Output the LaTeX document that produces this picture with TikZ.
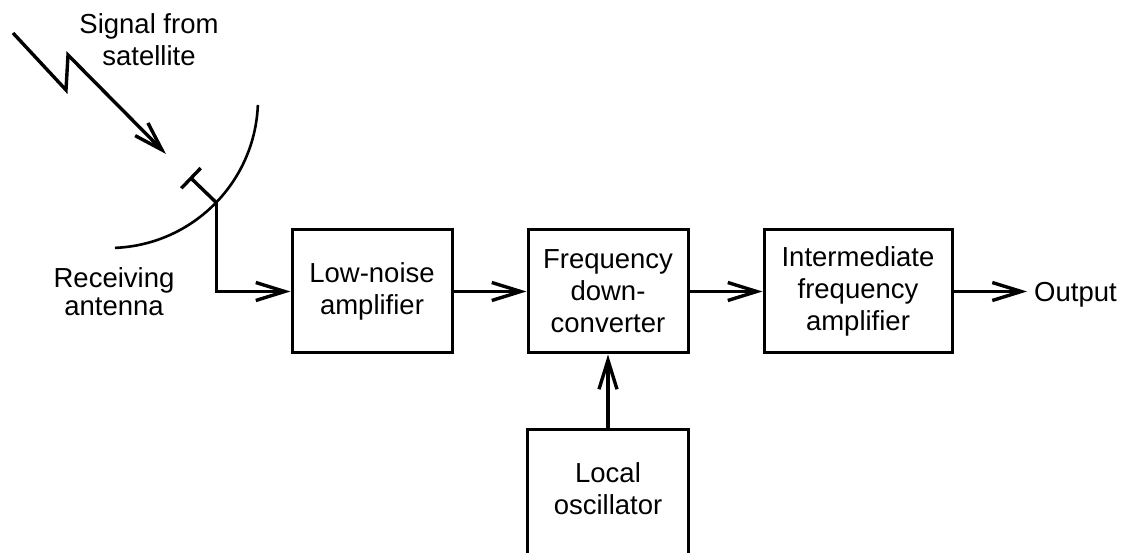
\documentclass[tikz,border=0pt]{standalone}
\usepackage{fontspec}
\setmainfont{Liberation Sans}
\usetikzlibrary{arrows.meta}
\begin{document}
\begin{tikzpicture}[x=1pt,y=1pt,
  txt/.style={font=\fontsize{27.5}{32}\selectfont},
  blk/.style={txt, draw, line width=3pt, minimum width=160pt,
    minimum height=123pt, align=center, inner sep=0pt},
  lbl/.style={txt, align=center, inner sep=0pt},
  wire/.style={line width=3.4pt},
  flow/.style={wire, -{Straight Barb[length=29pt,width=18pt]}}]
  \useasboundingbox (0,0) rectangle (1128,552);
  \clip (0,0) rectangle (1128,552);

  % processing chain
  \node[blk] (lna) at (372,260.5) {Low-noise\\amplifier};
  \node[blk] (fdc) at (608,260.5) {Frequency\\down-\\converter};
  \node[blk, minimum width=188pt] (ifa) at (858,260.5)
    {Intermediate\\frequency\\amplifier};
  \node[lbl, anchor=west, inner xsep=7pt, text height=20pt, text depth=0pt] (out)
    at (1027,260.5) {Output};

  % local oscillator: box runs off the lower edge
  \node[lbl, minimum width=160pt, minimum height=118pt] (lo) at (608,63)
    {Local\\oscillator};
  \draw[line width=3pt] ([yshift=-12pt]lo.south west) |- (lo.north east)
    -- ([yshift=-12pt]lo.south east);

  % labels
  \node[lbl, anchor=north] (sig) at (149,538.7) {Signal from\\satellite};
  \node[lbl, anchor=north, font=\fontsize{27.5}{28}\selectfont] (rx)
    at (114,284.7) {Receiving\\antenna};

  % incoming signal (lightning arrow)
  \coordinate (s0) at (13,519);
  \coordinate (s1) at (66,462);
  \coordinate (s2) at (68,497);
  \coordinate (s3) at (166,398);
  \draw[flow] (s0) -- (s1) -- (s2) -- (s3);

  % dish reflector and feed
  \coordinate (ctr) at (109,453);
  \draw[line width=2.6pt] (ctr) ++(-2.3:149) arc[start angle=-2.3, end angle=-87.7, radius=149];
  \coordinate (feed) at (216.2,349.5);
  \coordinate (horn) at (191,373.8);
  \draw[wire] (feed) -- (horn);
  \draw[wire] (181.3,363.7) -- (200.7,383.9);

  % connections
  \draw[flow] (feed) |- (lna.west);
  \draw[flow] (lna) -- (fdc);
  \draw[flow] (fdc) -- (ifa);
  \draw[flow] (ifa) -- (out);
  \draw[flow] (lo.north) -- (fdc.south);
\end{tikzpicture}
\end{document}
